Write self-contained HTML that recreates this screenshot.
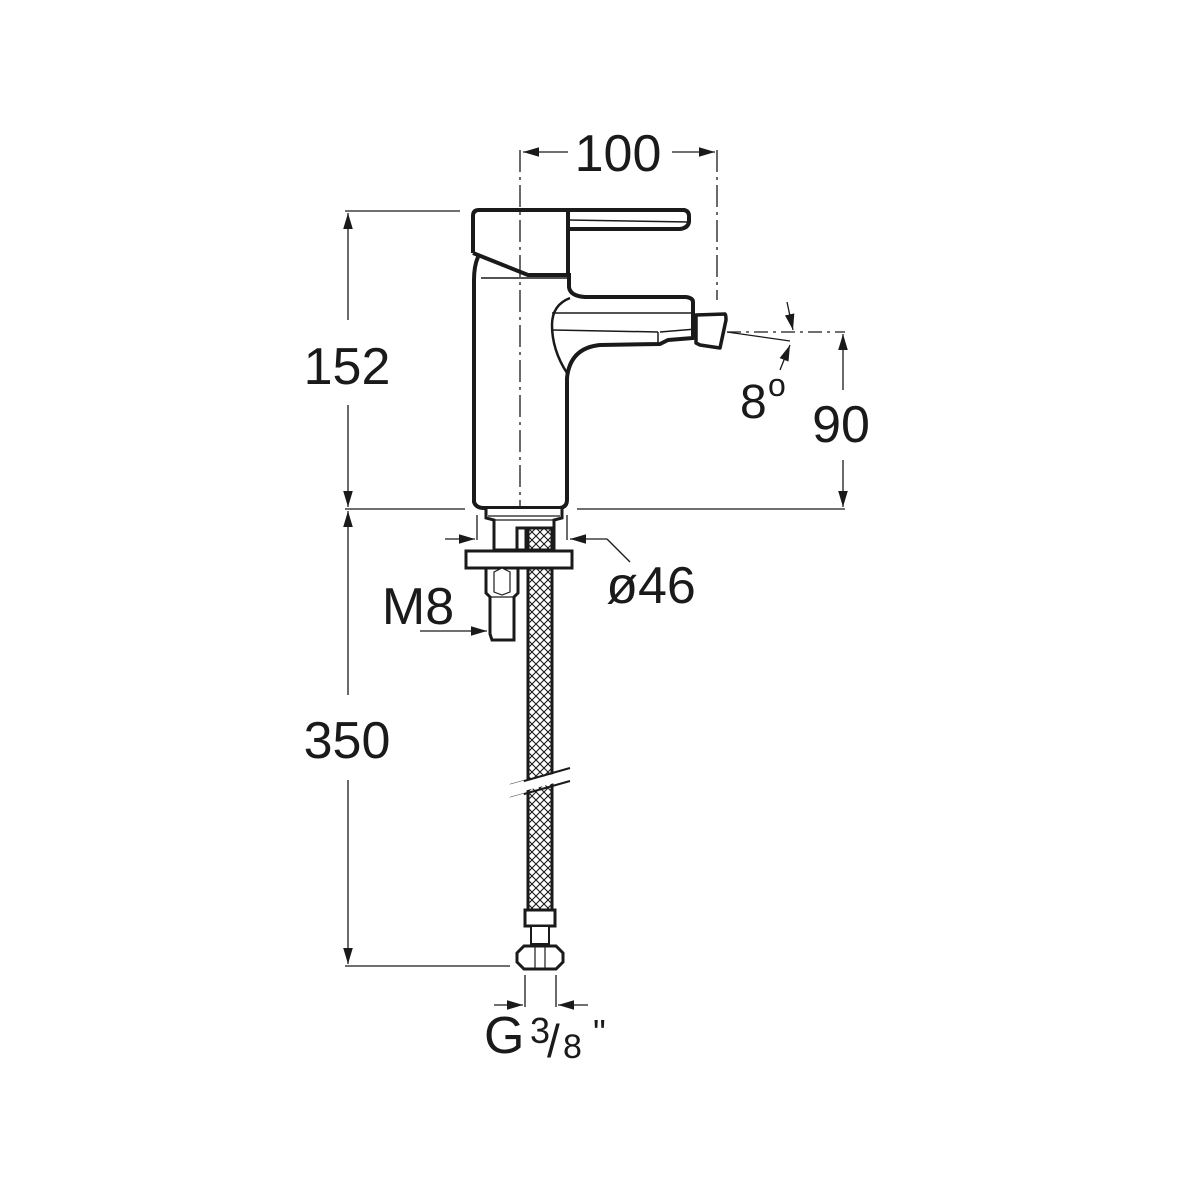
<!DOCTYPE html>
<html><head><meta charset="utf-8"><style>html,body{margin:0;padding:0;background:#fff}svg{display:block}text{font-family:"Liberation Sans",Arial,sans-serif;fill:#1a1a1a}</style></head>
<body>
<svg width="1200" height="1200" viewBox="0 0 1200 1200" xmlns="http://www.w3.org/2000/svg">
<defs>
<marker id="a" viewBox="0 0 10 10" refX="10" refY="5" markerWidth="16" markerHeight="16" markerUnits="userSpaceOnUse" orient="auto-start-reverse"><path d="M0,2 L10,5 L0,8 z" fill="#1a1a1a"/></marker>
<pattern id="mesh" width="8" height="8" patternUnits="userSpaceOnUse"><rect width="8" height="8" fill="#fff"/><path d="M0,0 L8,8 M8,0 L0,8" stroke="#1a1a1a" stroke-width="1.1"/></pattern>
</defs>
<g stroke="#1a1a1a" fill="none" stroke-width="1.3">
<line x1="520" y1="150" x2="520" y2="530" stroke-dasharray="22,5,3,5"/>
<line x1="717" y1="150" x2="717" y2="300" stroke-dasharray="22,5,3,5"/>
<line x1="727" y1="332" x2="845" y2="332" stroke-dasharray="14,5,3,5"/>
<line x1="727" y1="332" x2="790" y2="341"/>
<line x1="523" y1="152" x2="568" y2="152" marker-start="url(#a)"/>
<line x1="672" y1="152" x2="715" y2="152" marker-end="url(#a)"/>
<line x1="345" y1="211" x2="460" y2="211"/>
<line x1="345" y1="509" x2="465" y2="509"/>
<line x1="577" y1="509" x2="845" y2="509"/>
<line x1="348" y1="320" x2="348" y2="213" marker-end="url(#a)"/>
<line x1="348" y1="405" x2="348" y2="507" marker-end="url(#a)"/>
<line x1="348" y1="695" x2="348" y2="511" marker-end="url(#a)"/>
<line x1="348" y1="780" x2="348" y2="964" marker-end="url(#a)"/>
<line x1="345" y1="966" x2="510" y2="966"/>
<line x1="843" y1="390" x2="843" y2="334" marker-end="url(#a)"/>
<line x1="843" y1="460" x2="843" y2="507" marker-end="url(#a)"/>
<line x1="787" y1="302" x2="793" y2="330" marker-end="url(#a)"/>
<line x1="780" y1="370" x2="790" y2="345" marker-end="url(#a)"/>
<line x1="477" y1="515" x2="477" y2="540"/>
<line x1="567" y1="515" x2="567" y2="540"/>
<line x1="445" y1="539" x2="475" y2="539" marker-end="url(#a)"/>
<line x1="607" y1="539" x2="570" y2="539" marker-end="url(#a)"/>
<line x1="607" y1="539" x2="630" y2="562"/>
<line x1="420" y1="631" x2="487" y2="631" marker-end="url(#a)"/>
<line x1="525" y1="975" x2="525" y2="1007"/>
<line x1="556" y1="975" x2="556" y2="1007"/>
<line x1="494" y1="1005" x2="523" y2="1005" marker-end="url(#a)"/>
<line x1="588" y1="1005" x2="558" y2="1005" marker-end="url(#a)"/>
</g>
<g stroke="#1a1a1a" fill="none" stroke-width="4" stroke-linejoin="round">
<path d="M473,253 L473,216 Q473,210 479,210 L684,210 Q689,211 689,216 L689,222 Q688,228 680,229 L568,229"/>
<path d="M568,210 L568,275"/>
<path d="M473,253 L528,275 L568,275"/>
<path d="M478,257 Q474,266 474,280 L474,502 Q476,508 484,508 L560,508 Q567,507 567,500 L567,378 Q570,348 600,345 L660,344 L668,340 L693,338 L693,302 Q693,298 686,297 L585,297 Q570,296 569,287 L569,273"/>
<path d="M567,373 Q552,350 552,325 Q552,305 570,298" stroke-width="2.5"/>
<path d="M696,315 L725,314 Q726,315 726,320 L720,348 L700,345 L696,343 Z" stroke-width="3.5"/>
</g>
<g stroke="#1a1a1a" fill="none" stroke-width="1.5">
<line x1="568" y1="220" x2="689" y2="222"/>
<line x1="481" y1="278" x2="568" y2="278"/>
<line x1="552" y1="313" x2="693" y2="313"/>
<line x1="553" y1="330" x2="658" y2="332"/>
<line x1="658" y1="332" x2="658" y2="345"/>
<line x1="696" y1="329" x2="660" y2="332"/>
</g>
<g stroke="#1a1a1a" fill="#fff" stroke-width="3">
<path d="M486,509 L486,518 L494,520 L494,550 L554,550 L554,520 L562,518 L562,509"/>
<line x1="488" y1="516" x2="560" y2="516" stroke-width="1.2"/>
<line x1="493" y1="520" x2="555" y2="520" stroke-width="1.2"/>
<rect x="466" y="551" width="106" height="17"/>
<rect x="517" y="528" width="9" height="22"/>
<path d="M486,568 L518,568 L518,593 L514,597 L514,640 L492,640 L490,634 L490,597 L486,593 Z"/>
<line x1="491" y1="597" x2="514" y2="597" stroke-width="1.2"/>
<path d="M494,572 L502,568 L510,572 L510,592 L502,595 L494,592 Z" stroke-width="1.2"/>
<rect x="528" y="528" width="24" height="22" fill="url(#mesh)"/>
<rect x="528" y="568" width="24" height="342" fill="url(#mesh)"/>
<line x1="528" y1="568" x2="528" y2="910"/><line x1="552" y1="568" x2="552" y2="910"/>
<rect x="525" y="910" width="30" height="16"/>
<rect x="531" y="926" width="18" height="18" stroke-width="2"/>
<path d="M524,946 L556,946 L563,953 L563,962 L556,969 L524,969 L517,962 L517,953 Z"/>
<line x1="535" y1="946" x2="535" y2="969" stroke-width="1.2"/><line x1="545" y1="946" x2="545" y2="969" stroke-width="1.2"/>
</g>
<g stroke="#fff" stroke-width="9"><line x1="510" y1="790" x2="575" y2="773"/></g>
<g stroke="#1a1a1a" stroke-width="2"><line x1="510" y1="785" x2="570" y2="768"/><line x1="510" y1="798" x2="570" y2="781"/></g>
<g stroke="#fff" stroke-width="3"><line x1="510" y1="786" x2="524" y2="782"/><line x1="510" y1="799" x2="524" y2="795"/></g>
<text x="618" y="171" font-size="52" text-anchor="middle">100</text>
<text x="347" y="384" font-size="52" text-anchor="middle">152</text>
<text x="347" y="758" font-size="52" text-anchor="middle">350</text>
<text x="841" y="442" font-size="52" text-anchor="middle">90</text>
<text x="740" y="418" font-size="48">8</text>
<text x="768" y="396" font-size="32">o</text>
<text x="651" y="603" font-size="52" text-anchor="middle">ø46</text>
<text x="418" y="624" font-size="52" text-anchor="middle">M8</text>
<text x="484" y="1053" font-size="52">G</text>
<text x="530" y="1043" font-size="36">3</text>
<text x="547" y="1057" font-size="46">/</text>
<text x="563" y="1058" font-size="34">8</text>
<text x="593" y="1045" font-size="36">"</text>
</svg>
</body></html>
